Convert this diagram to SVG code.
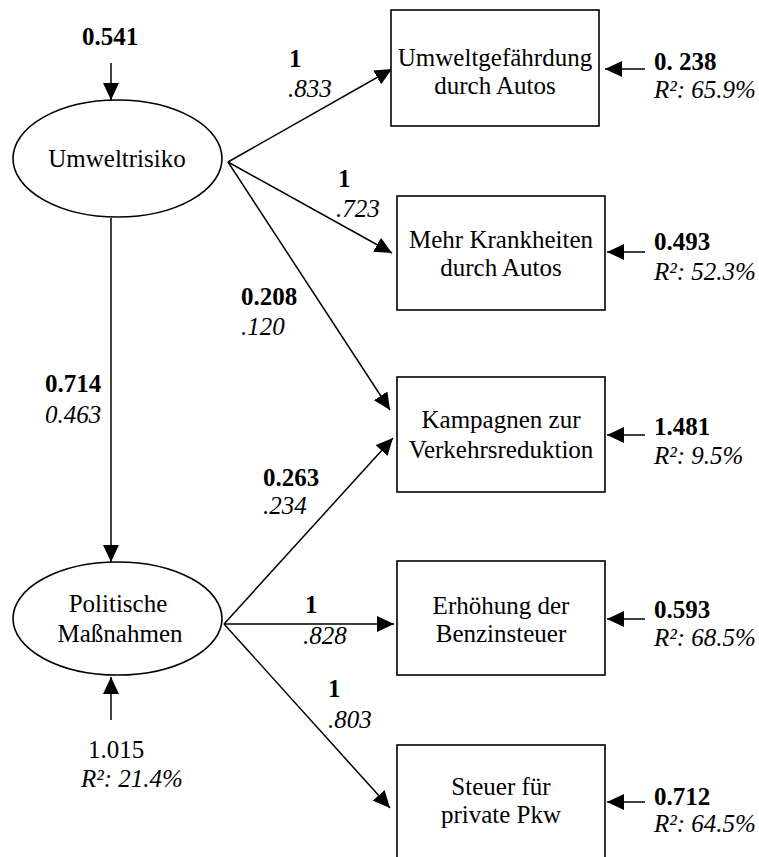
<svg xmlns="http://www.w3.org/2000/svg" width="759" height="857" viewBox="0 0 759 857">
<style>
text{font-family:"Liberation Serif","Times New Roman",serif;font-size:25px;fill:#000}
.b{font-weight:bold}
.i{font-style:italic}
.c{text-anchor:middle}
.n{fill:#fff;stroke:#000;stroke-width:1.6}
.e{fill:none;stroke:#000;stroke-width:1.5}
</style>
<defs>
<marker id="ah" viewBox="0 0 17 16" refX="17" refY="8" markerWidth="17" markerHeight="16" orient="auto" markerUnits="userSpaceOnUse"><path d="M0,0 L17,8 L0,16 z" fill="#000"/></marker>
</defs>
<g id="connectors">
<path class="e" d="M111,63 L111,100" marker-end="url(#ah)"/>
<path class="e" d="M111,218 L111,562" marker-end="url(#ah)"/>
<path class="e" d="M111,720 L111,677" marker-end="url(#ah)"/>
<path class="e" d="M228,162 L392,69" marker-end="url(#ah)"/>
<path class="e" d="M228,162 L392,253" marker-end="url(#ah)"/>
<path class="e" d="M228,162 L390,410" marker-end="url(#ah)"/>
<path class="e" d="M224,624 L393,438" marker-end="url(#ah)"/>
<path class="e" d="M224,624 L394,624" marker-end="url(#ah)"/>
<path class="e" d="M224,624 L390,808" marker-end="url(#ah)"/>
<path class="e" d="M645,69 L605,69" marker-end="url(#ah)"/>
<path class="e" d="M645,252 L607,252" marker-end="url(#ah)"/>
<path class="e" d="M645,435 L607,435" marker-end="url(#ah)"/>
<path class="e" d="M645,619 L607,619" marker-end="url(#ah)"/>
<path class="e" d="M645,802 L607,802" marker-end="url(#ah)"/>
</g>
<g id="umweltrisiko">
<ellipse class="n" cx="117.5" cy="158.5" rx="104.5" ry="58.5"/>
<text class="c" x="117" y="167">Umweltrisiko</text>
<text class="c b" x="110" y="45">0.541</text>
</g>
<g id="politische">
<ellipse class="n" cx="117.5" cy="618.5" rx="104.5" ry="56.5"/>
<text class="c" x="118" y="612">Politische</text>
<text class="c" x="120" y="642">Maßnahmen</text>
<text x="88" y="758">1.015</text>
<text class="i" x="81" y="787">R²: 21.4%</text>
</g>
<g id="box1">
<rect class="n" x="391" y="10" width="208" height="116"/>
<text class="c" x="495" y="66">Umweltgefährdung</text>
<text class="c" x="495" y="94">durch Autos</text>
<text class="b" x="654" y="70">0. 238</text>
<text class="i" x="654" y="98">R²: 65.9%</text>
</g>
<g id="box2">
<rect class="n" x="397" y="196" width="208" height="114"/>
<text class="c" x="501" y="248">Mehr Krankheiten</text>
<text class="c" x="501" y="276">durch Autos</text>
<text class="b" x="654" y="250">0.493</text>
<text class="i" x="654" y="280">R²: 52.3%</text>
</g>
<g id="box3">
<rect class="n" x="397" y="377" width="208" height="115"/>
<text class="c" x="501" y="428">Kampagnen zur</text>
<text class="c" x="501" y="458">Verkehrsreduktion</text>
<text class="b" x="654" y="435">1.481</text>
<text class="i" x="654" y="464">R²: 9.5%</text>
</g>
<g id="box4">
<rect class="n" x="397" y="561" width="208" height="114"/>
<text class="c" x="501" y="614">Erhöhung der</text>
<text class="c" x="501" y="642">Benzinsteuer</text>
<text class="b" x="654" y="618">0.593</text>
<text class="i" x="654" y="646">R²: 68.5%</text>
</g>
<g id="box5">
<rect class="n" x="397" y="745" width="208" height="114"/>
<text class="c" x="501" y="795">Steuer für</text>
<text class="c" x="501" y="823">private Pkw</text>
<text class="b" x="654" y="805">0.712</text>
<text class="i" x="654" y="832">R²: 64.5%</text>
</g>
<g id="labels">
<text class="b" x="289" y="67">1</text>
<text class="i" x="288" y="97">.833</text>
<text class="b" x="338" y="187">1</text>
<text class="i" x="336" y="217">.723</text>
<text class="b" x="241" y="305">0.208</text>
<text class="i" x="241" y="335">.120</text>
<text class="b" x="45" y="392">0.714</text>
<text class="i" x="45" y="423">0.463</text>
<text class="b" x="263" y="486">0.263</text>
<text class="i" x="263" y="514">.234</text>
<text class="b" x="305" y="613">1</text>
<text class="i" x="303" y="644">.828</text>
<text class="b" x="328" y="697">1</text>
<text class="i" x="328" y="728">.803</text>
</g>
</svg>
